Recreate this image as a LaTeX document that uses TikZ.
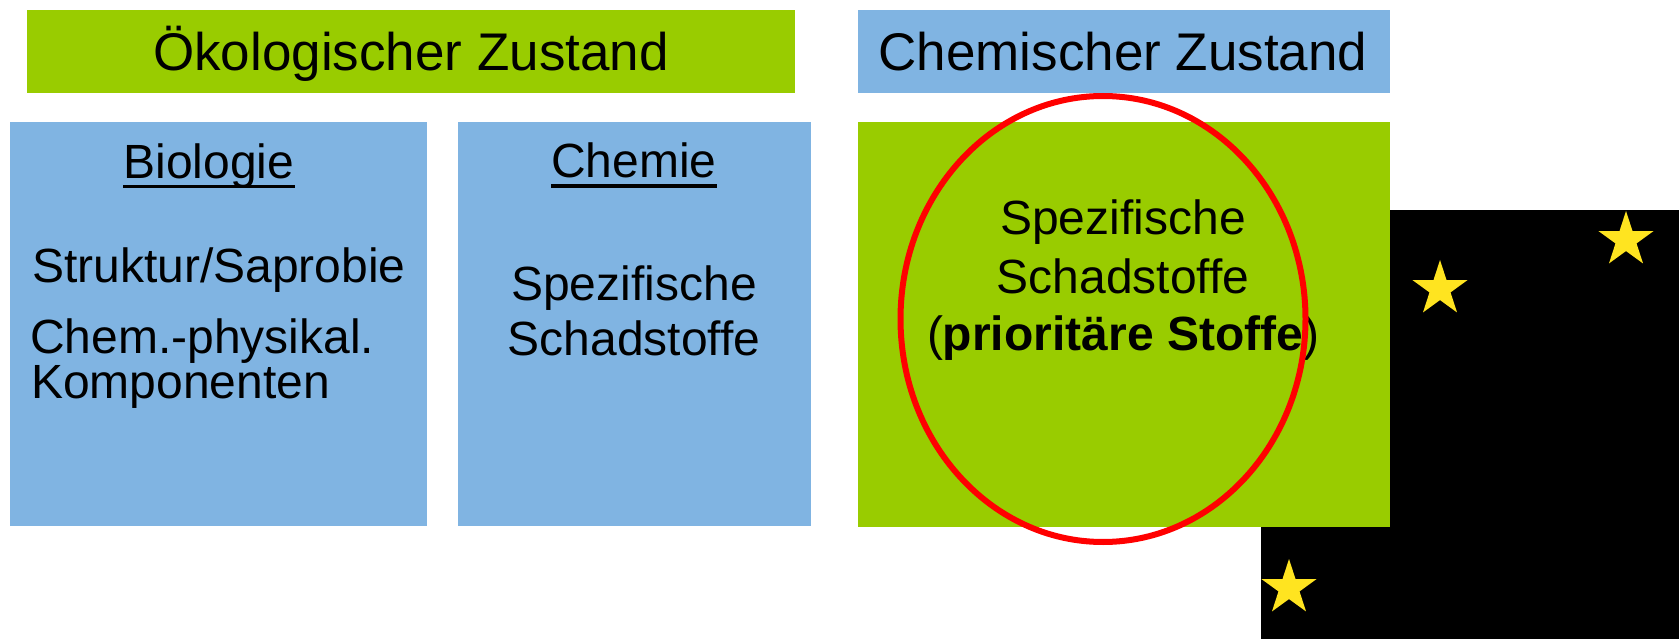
\documentclass[tikz,border=0pt]{standalone}
\usepackage{fontspec}
\setmainfont{Liberation Sans}
\usetikzlibrary{shapes.geometric}

\definecolor{laubgruen}{RGB}{153,204,0}
\definecolor{hellblau}{RGB}{128,180,226}
\definecolor{sterngelb}{RGB}{255,228,32}

\tikzset{
  box/.style={anchor=north west,inner sep=0pt,outer sep=0pt},
  kopf/.style={inner sep=0pt,font=\fontsize{53}{60}\selectfont},
  txt/.style={inner sep=0pt,font=\fontsize{48}{55}\selectfont},
  strich/.style={line width=3.6pt},
  stern/.style={star,star points=5,star point ratio=2.618,
    minimum size=58pt,inner sep=0pt,fill=sterngelb}
}

\begin{document}
\begin{tikzpicture}[x=1pt,y=-1pt]
    \useasboundingbox (0,0) rectangle (1679,639);
    % black corner with stars
    \fill[black] (1261,210) rectangle (1679,639);
    \foreach \p/\q in {1626/240,1440/289,1289/588}
    \node[stern] at (\p,\q) {};
    % boxes
    \node[box,fill=laubgruen,minimum width=768pt,minimum height=83pt] (oeko) at (27,10) {};
    \node[box,fill=hellblau,minimum width=532pt,minimum height=83pt] (chemz) at (858,10) {};
    \node[box,fill=hellblau,minimum width=417pt,minimum height=404pt] (bio) at (10,122) {};
    \node[box,fill=hellblau,minimum width=353pt,minimum height=404pt] (chem) at (458,122) {};
    \node[box,fill=laubgruen,minimum width=532pt,minimum height=405pt] (prio) at (858,122) {};
    % headings
    \node[kopf,anchor=base] (oekoT) at (411,71) {Ökologischer Zustand};
    \node[kopf,anchor=base] (chemzT) at (1123,71) {Chemischer Zustand};
    % Biologie
    \node[txt,anchor=base] (bioT) at (209,179) {Biologie};
    \draw[strich] ([yshift=-7.5pt]bioT.base west) -- ([yshift=-7.5pt]bioT.base east);
    \node[txt,anchor=base west] (struk) at (32,282) {Struktur/Saprobie};
    \node[txt,anchor=base west] (phys) at (30,353) {Chem.-physikal.};
    \node[txt,anchor=base west] (komp) at (31,398) {Komponenten};
    % Chemie
    \node[txt,anchor=base] (chemT) at (634,178) {Chemie};
    \draw[strich] ([yshift=-8pt]chemT.base west) -- ([yshift=-8pt]chemT.base east);
    \node[txt,anchor=base] (spez) at (634,300) {Spezifische};
    \node[txt,anchor=base] (schad) at (634,355) {Schadstoffe};
    % prioritaere Stoffe
    \node[txt,anchor=base] (spez2) at (1123,235) {Spezifische};
    \node[txt,anchor=base] (schad2) at (1123,293) {Schadstoffe};
    \node[txt,anchor=base] (prioT) at (1123,350) {(\textbf{prioritäre Stoffe})};
    \draw[red,line width=6pt] (1103,319) ellipse (202.5 and 223);
  \end{tikzpicture}
\end{document}
